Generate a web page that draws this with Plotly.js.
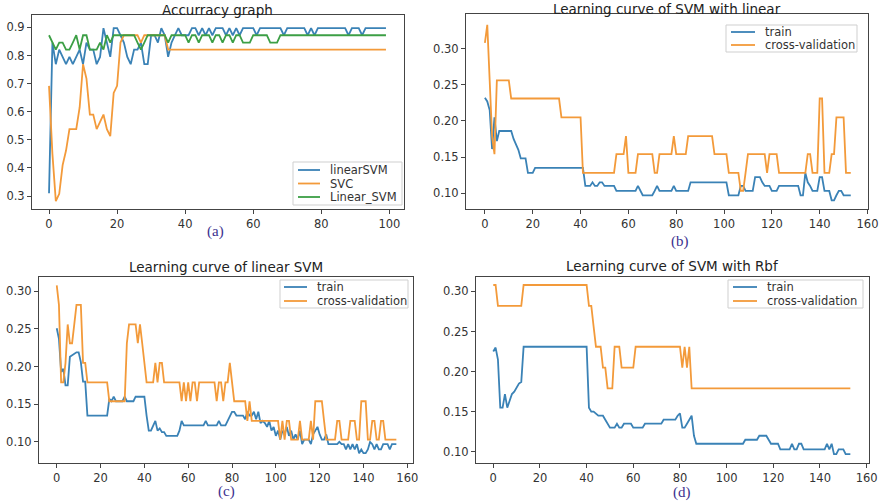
<!DOCTYPE html>
<html><head><meta charset="utf-8">
<script src="https://cdn.plot.ly/plotly-3.0.1.min.js"></script>
<style>html,body{margin:0;padding:0;background:#fff}#chart{width:880px;height:503px}</style>
</head><body><div id="chart"></div>
<script>
// ---- Panel (a): Accuracy graph ----
const accLinearSVM = [.31,.846,.769,.821,.795,.769,.795,.769,.795,.821,
 .769,.846,.821,.821,.769,.795,.897,.846,.795,.897,
 .897,.872,.846,.795,.769,.821,.821,.846,.769,.769,
 .872,.872,.846,.897,.872,.795,.846,.872,.897,.872,
 .872,.872,.897,.897,.872,.897,.872,.897,.872,.897,
 .897,.897,.872,.897,.872,.897,.872,.897,.897,.897,
 .897,.872,.897,.897,.897,.897,.897,.897,.897,.872,
 .897,.897,.897,.897,.897,.897,.872,.897,.872,.897,
 .897,.897,.897,.897,.897,.897,.897,.897,.872,.897,
 .897,.897,.872,.897,.897,.897,.897,.897,.897,.897];
const accSVC = [.692,.45,.282,.308,.41,.462,.538,.538,.538,.615,
 .769,.718,.59,.59,.538,.564,.59,.538,.513,.667,
 .692,.846,.872,.872,.872,.872,.872,.846,.872,.872,
 .872,.872,.872,.872,.872,.821,.821,.821,.821,.821,
 .821,.821,.821,.821,.821,.821,.821,.821,.821,.821,
 .821,.821,.821,.821,.821,.821,.821,.821,.821,.821,
 .821,.821,.821,.821,.821,.821,.821,.821,.821,.821,
 .821,.821,.821,.821,.821,.821,.821,.821,.821,.821,
 .821,.821,.821,.821,.821,.821,.821,.821,.821,.821,
 .821,.821,.821,.821,.821,.821,.821,.821,.821,.821];
const accLinear_SVM = [.872,.846,.821,.846,.846,.821,.821,.846,.872,.821,
 .872,.872,.821,.821,.821,.846,.821,.872,.846,.872,
 .872,.872,.872,.872,.872,.872,.846,.821,.846,.872,
 .872,.872,.872,.872,.872,.846,.872,.872,.872,.872,
 .872,.846,.872,.872,.846,.872,.872,.872,.846,.872,
 .872,.846,.872,.872,.846,.872,.872,.846,.846,.846,
 .872,.872,.872,.872,.872,.846,.846,.846,.872,.872,
 .872,.872,.872,.872,.872,.872,.872,.872,.872,.872,
 .872,.872,.872,.872,.872,.872,.872,.872,.872,.872,
 .872,.872,.872,.872,.872,.872,.872,.872,.872,.872];

// ---- Panel (b): Learning curve of SVM with linear ----
const bTrain = [.232,.227,.215,.161,.205,.172,.186,.186,.186,.186,
 .186,.186,.175,.167,.16,.148,.148,.148,.128,.128,
 .128,.135,.135,.135,.135,.135,.135,.135,.135,.135,
 .135,.135,.135,.135,.135,.135,.135,.135,.135,.135,
 .135,.135,.11,.11,.11,.115,.11,.11,.115,.115,
 .11,.11,.11,.11,.11,.103,.103,.103,.103,.103,
 .103,.103,.103,.103,.11,.103,.097,.097,.097,.097,
 .097,.103,.11,.103,.103,.103,.103,.103,.103,.11,
 .103,.103,.103,.103,.103,.103,.115,.115,.115,.115,
 .115,.115,.115,.115,.115,.115,.115,.115,.115,.115,
 .115,.115,.097,.097,.097,.097,.097,.11,.11,.103,
 .103,.103,.103,.122,.122,.122,.115,.11,.11,.11,
 .103,.103,.103,.11,.11,.11,.11,.11,.11,.11,
 .11,.11,.097,.097,.128,.115,.11,.103,.103,.103,
 .122,.122,.103,.103,.103,.09,.09,.097,.103,.103,
 .097,.097,.097,.097];
const bCV = [.308,.333,.256,.179,.154,.256,.256,.256,.256,.256,
 .256,.231,.231,.231,.231,.231,.231,.231,.231,.231,
 .231,.231,.231,.231,.231,.231,.231,.231,.231,.231,
 .231,.231,.205,.205,.205,.205,.205,.205,.205,.205,
 .205,.128,.128,.128,.128,.128,.128,.128,.128,.128,
 .128,.128,.128,.128,.128,.154,.154,.154,.154,.179,
 .128,.128,.128,.128,.154,.154,.154,.154,.154,.154,
 .154,.128,.128,.154,.154,.154,.154,.154,.154,.179,
 .154,.154,.154,.154,.154,.179,.179,.179,.179,.179,
 .179,.179,.179,.179,.179,.179,.154,.154,.154,.154,
 .154,.154,.128,.128,.128,.128,.128,.103,.103,.128,
 .154,.154,.154,.154,.154,.154,.154,.154,.128,.154,
 .154,.154,.154,.128,.128,.128,.128,.128,.128,.128,
 .128,.128,.128,.128,.128,.154,.154,.128,.128,.128,
 .231,.231,.128,.128,.128,.154,.154,.205,.205,.205,
 .205,.128,.128,.128];

// ---- Panel (c): Learning curve of linear SVM ----
const cTrain = [.251,.237,.193,.197,.175,.175,.213,.215,.217,.219,
 .219,.206,.18,.18,.135,.135,.135,.135,.135,.135,
 .135,.135,.135,.135,.157,.154,.16,.154,.154,.154,
 .154,.16,.154,.154,.154,.154,.16,.16,.16,.16,
 .16,.135,.115,.115,.122,.128,.115,.118,.113,.113,
 .108,.108,.108,.108,.108,.108,.115,.128,.122,.122,
 .122,.122,.122,.122,.122,.122,.122,.122,.128,.122,
 .122,.122,.122,.122,.128,.122,.122,.122,.128,.135,
 .14,.14,.135,.135,.135,.135,.13,.14,.135,.135,
 .14,.13,.14,.125,.128,.125,.12,.128,.115,.12,
 .108,.115,.103,.115,.11,.12,.108,.115,.103,.11,
 .103,.115,.097,.103,.103,.103,.097,.11,.115,.12,
 .11,.103,.103,.11,.097,.097,.097,.097,.097,.10,
 .097,.097,.09,.097,.09,.097,.09,.097,.085,.09,
 .085,.085,.09,.10,.097,.09,.097,.09,.09,.097,
 .097,.097,.09,.097,.097,.097];
const cCV = [.308,.282,.179,.179,.205,.256,.231,.231,.256,.282,
 .282,.282,.205,.205,.179,.179,.179,.179,.179,.179,
 .179,.179,.179,.179,.154,.154,.154,.154,.154,.154,
 .154,.154,.231,.256,.256,.256,.256,.231,.256,.231,
 .205,.179,.179,.179,.179,.205,.179,.205,.205,.179,
 .179,.179,.179,.179,.179,.179,.179,.154,.179,.154,
 .179,.154,.179,.179,.154,.179,.179,.179,.179,.179,
 .179,.179,.179,.154,.179,.179,.154,.179,.179,.205,
 .179,.154,.154,.154,.154,.154,.154,.128,.154,.128,
 .128,.128,.128,.128,.128,.128,.128,.128,.128,.128,
 .128,.128,.103,.128,.103,.128,.128,.103,.103,.103,
 .103,.128,.103,.103,.103,.103,.128,.103,.154,.154,
 .154,.154,.128,.103,.103,.103,.103,.103,.128,.128,
 .103,.103,.103,.103,.128,.128,.128,.103,.103,.154,
 .154,.154,.103,.103,.128,.128,.103,.103,.128,.128,
 .103,.103,.103,.103,.103,.103];

// ---- Panel (d): Learning curve of SVM with Rbf ----
const dTrain = [.225,.23,.215,.155,.155,.172,.155,.165,.172,.175,
 .18,.185,.187,.231,.231,.231,.231,.231,.231,.231,
 .231,.231,.231,.231,.231,.231,.231,.231,.231,.231,
 .231,.231,.231,.231,.231,.231,.231,.231,.231,.231,
 .231,.155,.15,.15,.148,.145,.145,.145,.14,.135,
 .13,.13,.13,.135,.13,.13,.135,.135,.135,.135,
 .13,.13,.13,.13,.13,.135,.135,.135,.135,.135,
 .135,.135,.135,.14,.14,.14,.14,.14,.14,.145,
 .148,.13,.13,.135,.14,.145,.12,.11,.11,.11,
 .11,.11,.11,.11,.11,.11,.11,.11,.11,.11,
 .11,.11,.11,.11,.11,.11,.11,.11,.115,.115,
 .115,.115,.115,.115,.12,.12,.12,.12,.115,.11,
 .11,.11,.11,.103,.103,.103,.103,.103,.11,.103,
 .103,.11,.11,.103,.103,.103,.103,.103,.103,.103,
 .103,.103,.103,.11,.103,.11,.097,.097,.103,.103,
 .103,.097,.097,.097];
const dCV = [.308,.308,.282,.282,.282,.282,.282,.282,.282,.282,
 .282,.282,.282,.308,.308,.308,.308,.308,.308,.308,
 .308,.308,.308,.308,.308,.308,.308,.308,.308,.308,
 .308,.308,.308,.308,.308,.308,.308,.308,.308,.308,
 .308,.282,.282,.256,.231,.231,.231,.205,.205,.179,
 .179,.179,.231,.231,.231,.205,.205,.205,.205,.205,
 .205,.231,.231,.231,.231,.231,.231,.231,.231,.231,
 .231,.231,.231,.231,.231,.231,.231,.231,.231,.231,
 .231,.205,.231,.205,.231,.179,.179,.179,.179,.179,
 .179,.179,.179,.179,.179,.179,.179,.179,.179,.179,
 .179,.179,.179,.179,.179,.179,.179,.179,.179,.179,
 .179,.179,.179,.179,.179,.179,.179,.179,.179,.179,
 .179,.179,.179,.179,.179,.179,.179,.179,.179,.179,
 .179,.179,.179,.179,.179,.179,.179,.179,.179,.179,
 .179,.179,.179,.179,.179,.179,.179,.179,.179,.179,
 .179,.179,.179,.179];

const panelTitles = ["Accurracy graph","Learning curve of SVM with linear","Learning curve of linear SVM","Learning curve of SVM with Rbf"];
const panelLabels = ["(a)","(b)","(c)","(d)"];
const legendNamesA = ["linearSVM","SVC","Linear_SVM"];
const legendNamesB = ["train","cross-validation"];
const xTicks = [0,20,40,60,80,100,120,140,160];

const BLUE = "#3a82b6", ORANGE = "#f39a3a", GREEN = "#3c9f45";
const idx = arr => arr.map((_, i) => i);
function tr(y, name, color, xa, ya) {
  return {x: idx(y), y: y, name: name, type: "scatter", mode: "lines",
    line: {color: color, width: 1.8}, xaxis: xa, yaxis: ya, showlegend: false};
}
const traces = [
  tr(accLinearSVM, legendNamesA[0], BLUE, "x", "y"),
  tr(accSVC, legendNamesA[1], ORANGE, "x", "y"),
  tr(accLinear_SVM, legendNamesA[2], GREEN, "x", "y"),
  tr(bTrain, legendNamesB[0], BLUE, "x2", "y2"),
  tr(bCV, legendNamesB[1], ORANGE, "x2", "y2"),
  tr(cTrain, legendNamesB[0], BLUE, "x3", "y3"),
  tr(cCV, legendNamesB[1], ORANGE, "x3", "y3"),
  tr(dTrain, legendNamesB[0], BLUE, "x4", "y4"),
  tr(dCV, legendNamesB[1], ORANGE, "x4", "y4")
];

const W = 880, H = 503;
const tickFont = {family: "DejaVu Sans", size: 11.5, color: "#333"};
const axBase = {showline: true, mirror: true, linecolor: "#444", linewidth: 1, ticks: "outside",
  ticklen: 4, tickcolor: "#444", showgrid: false, zeroline: false, tickfont: tickFont, fixedrange: true};
function ax(px0, px1, range, anchor, extra) {
  return Object.assign({}, axBase, {domain: [px0 / W, px1 / W], range: range, anchor: anchor}, extra || {});
}
function ay(py0, py1, range, anchor, extra) {
  return Object.assign({}, axBase, {domain: [1 - py1 / H, 1 - py0 / H], range: range, anchor: anchor}, extra || {});
}
const xt = {tickmode: "array", tickvals: xTicks};
const y2f = {tickformat: ".2f", dtick: 0.05, tick0: 0};

const P = (px, py) => ({x: px / W, y: 1 - py / H});
const annotations = [];
const shapes = [];
const titlePos = [[217, 10], [667, 9], [226, 267], [672, 266]];
const labelPos = [[215, 231], [680, 241], [226, 491], [682, 492]];
panelTitles.forEach((t, k) => { const p = P(titlePos[k][0], titlePos[k][1]);
  annotations.push({text: t, xref: "paper", yref: "paper", x: p.x, y: p.y, xanchor: "center", yanchor: "middle",
    showarrow: false, font: {family: "DejaVu Sans", size: 13.5, color: "#222"}}); });
panelLabels.forEach((t, k) => { const p = P(labelPos[k][0], labelPos[k][1]);
  annotations.push({text: t, xref: "paper", yref: "paper", x: p.x, y: p.y, xanchor: "center", yanchor: "middle",
    showarrow: false, font: {family: "Liberation Serif", size: 15, color: "#3b3190"}}); });

// legend boxes (pixel geometry only)
const legends = [
  {box: [293, 162, 402, 205], lx: [298, 320], tx: 328, rows: [170, 183.5, 197], names: legendNamesA, colors: [BLUE, ORANGE, GREEN]},
  {box: [726, 25, 857, 52], lx: [731, 755], tx: 763, rows: [32, 45], names: legendNamesB, colors: [BLUE, ORANGE]},
  {box: [280, 280, 408, 308], lx: [284, 307], tx: 315, rows: [287, 301], names: legendNamesB, colors: [BLUE, ORANGE]},
  {box: [728, 280, 863, 308], lx: [733, 757], tx: 765, rows: [287, 301], names: legendNamesB, colors: [BLUE, ORANGE]}
];
legends.forEach(L => {
  const a = P(L.box[0], L.box[1]), b = P(L.box[2], L.box[3]);
  shapes.push({type: "rect", xref: "paper", yref: "paper", x0: a.x, y0: b.y, x1: b.x, y1: a.y,
    line: {color: "#cfcfcf", width: 1}, fillcolor: "rgba(255,255,255,0.85)", layer: "above"});
  L.rows.forEach((ry, j) => {
    const p0 = P(L.lx[0], ry), p1 = P(L.lx[1], ry), pt = P(L.tx, ry);
    shapes.push({type: "line", xref: "paper", yref: "paper", x0: p0.x, y0: p0.y, x1: p1.x, y1: p1.y,
      line: {color: L.colors[j], width: 1.8}, layer: "above"});
    annotations.push({text: L.names[j], xref: "paper", yref: "paper", x: pt.x, y: pt.y,
      xanchor: "left", yanchor: "middle", showarrow: false,
      font: {family: "DejaVu Sans", size: 11.5, color: "#333"}});
  });
});

const layout = {
  width: W, height: H, margin: {l: 0, r: 0, t: 0, b: 0},
  paper_bgcolor: "#fff", plot_bgcolor: "#fff", showlegend: false,
  xaxis: ax(32, 404, [-5, 104.3], "y", xt),
  yaxis: ay(15, 209, [0.254, 0.944], "x", {tickformat: ".1f", dtick: 0.1, tick0: 0}),
  xaxis2: ax(466, 868, [-7.9, 160.2], "y2", xt),
  yaxis2: ay(14, 209, [0.078, 0.348], "x2", y2f),
  xaxis3: ax(39, 413, [-8.1, 162.6], "y3", xt),
  yaxis3: ay(277, 463, [0.072, 0.319], "x3", y2f),
  xaxis4: ax(476, 869, [-7.4, 161], "y4", xt),
  yaxis4: ay(277, 463, [0.086, 0.318], "x4", y2f),
  annotations: annotations, shapes: shapes
};
Plotly.newPlot("chart", traces, layout, {displayModeBar: false, staticPlot: true});
</script></body></html>
